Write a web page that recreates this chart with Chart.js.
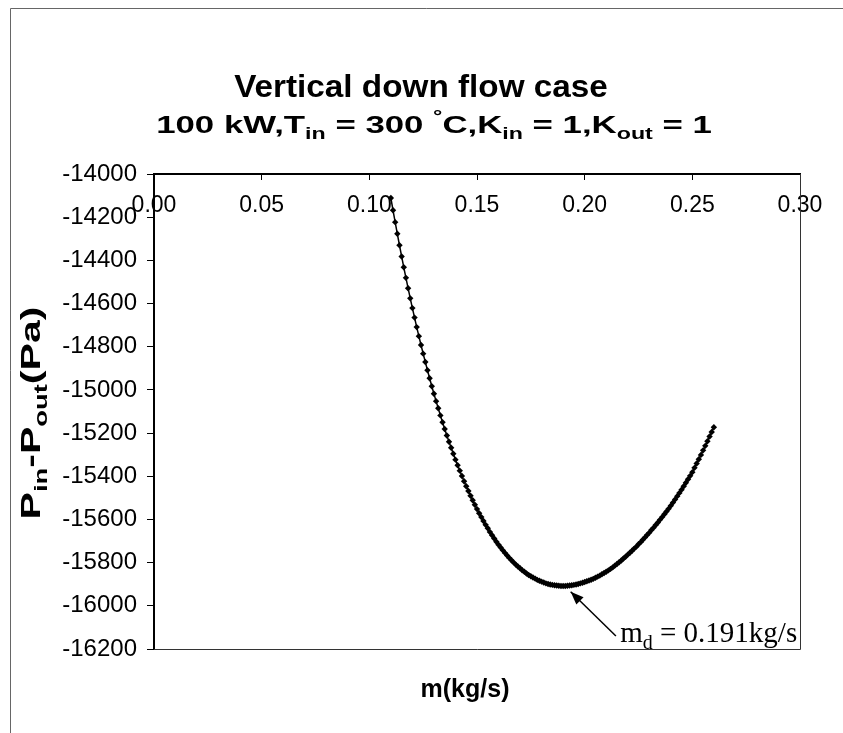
<!DOCTYPE html>
<html><head><meta charset="utf-8">
<script src="https://cdn.jsdelivr.net/npm/chart.js@4.4.0/dist/chart.umd.min.js"></script>
<style>html,body{margin:0;padding:0;background:#fff;}canvas{display:block;}</style>
</head><body>
<canvas id="c" width="843" height="733"></canvas>
<script>
// ---- data ----
const massFlow = [
0.110,0.111,0.112,0.113,0.114,0.115,0.116,0.117,0.118,0.119,
0.120,0.121,0.122,0.123,0.124,0.125,0.126,0.127,0.128,0.129,
0.130,0.131,0.132,0.133,0.134,0.135,0.136,0.137,0.138,0.139,
0.140,0.141,0.142,0.143,0.144,0.145,0.146,0.147,0.148,0.149,
0.150,0.151,0.152,0.153,0.154,0.155,0.156,0.157,0.158,0.159,
0.160,0.161,0.162,0.163,0.164,0.165,0.166,0.167,0.168,0.169,
0.170,0.171,0.172,0.173,0.174,0.175,0.176,0.177,0.178,0.179,
0.180,0.181,0.182,0.183,0.184,0.185,0.186,0.187,0.188,0.189,
0.190,0.191,0.192,0.193,0.194,0.195,0.196,0.197,0.198,0.199,
0.200,0.201,0.202,0.203,0.204,0.205,0.206,0.207,0.208,0.209,
0.210,0.211,0.212,0.213,0.214,0.215,0.216,0.217,0.218,0.219,
0.220,0.221,0.222,0.223,0.224,0.225,0.226,0.227,0.228,0.229,
0.230,0.231,0.232,0.233,0.234,0.235,0.236,0.237,0.238,0.239,
0.240,0.241,0.242,0.243,0.244,0.245,0.246,0.247,0.248,0.249,
0.250,0.251,0.252,0.253,0.254,0.255,0.256,0.257,0.258,0.259,
0.260];
const pressureDiff = [
-14111,-14168,-14223,-14277,-14330,-14382,-14432,-14481,-14529,-14576,
-14621,-14665,-14709,-14751,-14792,-14832,-14871,-14909,-14946,-14983,
-15018,-15052,-15085,-15118,-15150,-15181,-15211,-15240,-15268,-15296,
-15323,-15349,-15374,-15399,-15423,-15446,-15468,-15490,-15511,-15532,
-15552,-15571,-15589,-15607,-15625,-15641,-15658,-15673,-15688,-15703,
-15717,-15730,-15743,-15755,-15767,-15778,-15789,-15799,-15809,-15818,
-15826,-15835,-15842,-15850,-15857,-15863,-15869,-15874,-15880,-15884,
-15888,-15892,-15896,-15899,-15901,-15903,-15905,-15906,-15907,-15908,
-15908,-15908,-15907,-15906,-15905,-15903,-15901,-15899,-15896,-15893,
-15890,-15886,-15883,-15879,-15875,-15870,-15865,-15860,-15854,-15848,
-15842,-15836,-15829,-15822,-15814,-15806,-15798,-15790,-15781,-15773,
-15763,-15754,-15745,-15735,-15726,-15715,-15705,-15694,-15683,-15672,
-15661,-15649,-15638,-15626,-15614,-15601,-15589,-15576,-15563,-15550,
-15536,-15522,-15507,-15492,-15477,-15462,-15446,-15430,-15414,-15398,
-15381,-15361,-15341,-15321,-15301,-15280,-15259,-15238,-15216,-15195,
-15173];
const xTickValues = [0.00, 0.05, 0.10, 0.15, 0.20, 0.25, 0.30];
const yTickValues = [-14000,-14200,-14400,-14600,-14800,-15000,-15200,-15400,-15600,-15800,-16000,-16200];
const titleText = "Vertical down flow case";
const subtitleParts = [["100 kW,T",0],["in",-1],[" = 300 ",0],["°",1],["C,K",0],["in",-1],[" = 1,K",0],["out",-1],[" = 1",0]];
const yTitleParts = [["P",0],["in",-1],["-P",0],["out",-1],["(Pa)",0]];
const xTitleText = "m(kg/s)";
const noteParts = [["m",0],["d",-1],[" = 0.191kg/s",0]];
const arrowTip = [0.1935, -15935];
const arrowTail = [0.2145, -16140];
const noteAnchor = [0.2165, -16168];

const SANS = "'Liberation Sans', Arial, sans-serif";
const SERIF = "'Liberation Serif', 'Times New Roman', serif";

// draws text runs (normal / subscript / superscript) centred on cx, optionally stretched horizontally
function drawParts(ctx, parts, size, weight, family, cx, cy, stretch, align) {
  const subSize = Math.round(size * 0.68);
  const widths = parts.map(p => {
    ctx.font = weight + ' ' + (p[1] ? subSize : size) + 'px ' + family;
    return ctx.measureText(p[0]).width;
  });
  const total = widths.reduce((a, b) => a + b, 0);
  ctx.save();
  ctx.translate(cx, cy);
  ctx.scale(stretch, 1);
  let x = align === 'left' ? 0 : -total / 2;
  ctx.textBaseline = 'alphabetic';
  ctx.textAlign = 'left';
  parts.forEach((p, i) => {
    ctx.font = weight + ' ' + (p[1] ? subSize : size) + 'px ' + family;
    let dy = 0;
    if (p[1] === -1) dy = size * 0.25;
    if (p[1] === 1) dy = -size * 0.45;
    ctx.fillText(p[0], x, dy);
    x += widths[i];
  });
  ctx.restore();
}

const decor = {
  id: 'decor',
  beforeDraw(chart) {
    const ctx = chart.ctx;
    ctx.save();
    ctx.strokeStyle = '#666';
    ctx.lineWidth = 1;
    ctx.beginPath();
    ctx.moveTo(10.5, 733); ctx.lineTo(10.5, 8.5); ctx.lineTo(843, 8.5);
    ctx.stroke();
    ctx.restore();
  },
  beforeDatasetsDraw(chart) {
    const ctx = chart.ctx, a = chart.chartArea;
    ctx.save();
    ctx.strokeStyle = '#333';
    ctx.lineWidth = 1;
    ctx.beginPath();
    ctx.moveTo(a.left, Math.round(a.bottom) + 0.5);
    ctx.lineTo(Math.round(a.right) + 0.5, Math.round(a.bottom) + 0.5);
    ctx.lineTo(Math.round(a.right) + 0.5, a.top);
    ctx.stroke();
    ctx.restore();
  },
  afterDraw(chart) {
    const ctx = chart.ctx, xs = chart.scales.x, ys = chart.scales.y;
    ctx.save();
    ctx.fillStyle = '#000';
    drawParts(ctx, [[titleText, 0]], 32, 'bold', SANS, 421, 97, 1.04);
    drawParts(ctx, subtitleParts, 24, 'bold', SANS, 434, 133, 1.45);
    drawParts(ctx, [[xTitleText, 0]], 25, 'bold', SANS, 465, 697, 1.0);
    ctx.save();
    ctx.translate(40, 413);
    ctx.rotate(-Math.PI / 2);
    drawParts(ctx, yTitleParts, 27, 'bold', SANS, 0, 0, 1.52);
    ctx.restore();
    // annotation arrow
    const tx = xs.getPixelForValue(arrowTip[0]), ty = ys.getPixelForValue(arrowTip[1]);
    const sx = xs.getPixelForValue(arrowTail[0]), sy = ys.getPixelForValue(arrowTail[1]);
    ctx.strokeStyle = '#000';
    ctx.lineWidth = 1.5;
    ctx.beginPath(); ctx.moveTo(sx, sy); ctx.lineTo(tx, ty); ctx.stroke();
    const ang = Math.atan2(ty - sy, tx - sx), L = 14, W = 0.38;
    ctx.beginPath();
    ctx.moveTo(tx, ty);
    ctx.lineTo(tx - L * Math.cos(ang - W), ty - L * Math.sin(ang - W));
    ctx.lineTo(tx - L * Math.cos(ang + W), ty - L * Math.sin(ang + W));
    ctx.closePath(); ctx.fill();
    // annotation text
    const nx = xs.getPixelForValue(noteAnchor[0]), ny = ys.getPixelForValue(noteAnchor[1]);
    drawParts(ctx, noteParts, 29, 'normal', SERIF, nx, ny, 1.0, 'left');
    ctx.restore();
  }
};

new Chart(document.getElementById('c'), {
  type: 'line',
  data: {
    datasets: [{
      data: massFlow.map((m, i) => ({ x: m, y: pressureDiff[i] })),
      borderColor: '#000',
      borderWidth: 1.5,
      pointStyle: 'rectRot',
      pointRadius: 3.2,
      pointBackgroundColor: '#000',
      pointBorderColor: '#000',
      pointBorderWidth: 0,
      tension: 0,
      fill: false
    }]
  },
  options: {
    responsive: false,
    animation: false,
    devicePixelRatio: 1,
    layout: { padding: { left: 0, top: 174, right: 43, bottom: 84 } },
    plugins: { legend: { display: false }, tooltip: { enabled: false }, title: { display: false } },
    scales: {
      x: {
        type: 'linear',
        position: { y: -14000 },
        min: 0, max: 0.3,
        afterBuildTicks: s => { s.ticks = xTickValues.map(v => ({ value: v })); },
        afterFit: s => { s.height = 0; },
        ticks: {
          callback: v => Number(v).toFixed(2),
          font: { size: 23, family: SANS },
          color: '#000', padding: 13, maxRotation: 0, autoSkip: false
        },
        grid: { display: true, drawOnChartArea: false, drawTicks: true, tickLength: 5, color: '#000', lineWidth: 1 },
        border: { display: true, color: '#000', width: 2 }
      },
      y: {
        type: 'linear',
        position: 'left',
        min: -16200, max: -14000,
        afterBuildTicks: s => { s.ticks = yTickValues.map(v => ({ value: v })); },
        afterFit: s => { s.width = 154; },
        ticks: {
          callback: v => String(v),
          font: { size: 24, family: SANS },
          color: '#000', padding: 10, autoSkip: false
        },
        grid: { display: true, drawOnChartArea: false, drawTicks: true, tickLength: 7, color: '#000', lineWidth: 1 },
        border: { display: true, color: '#000', width: 2 }
      }
    }
  },
  plugins: [decor]
});
</script>
</body></html>
